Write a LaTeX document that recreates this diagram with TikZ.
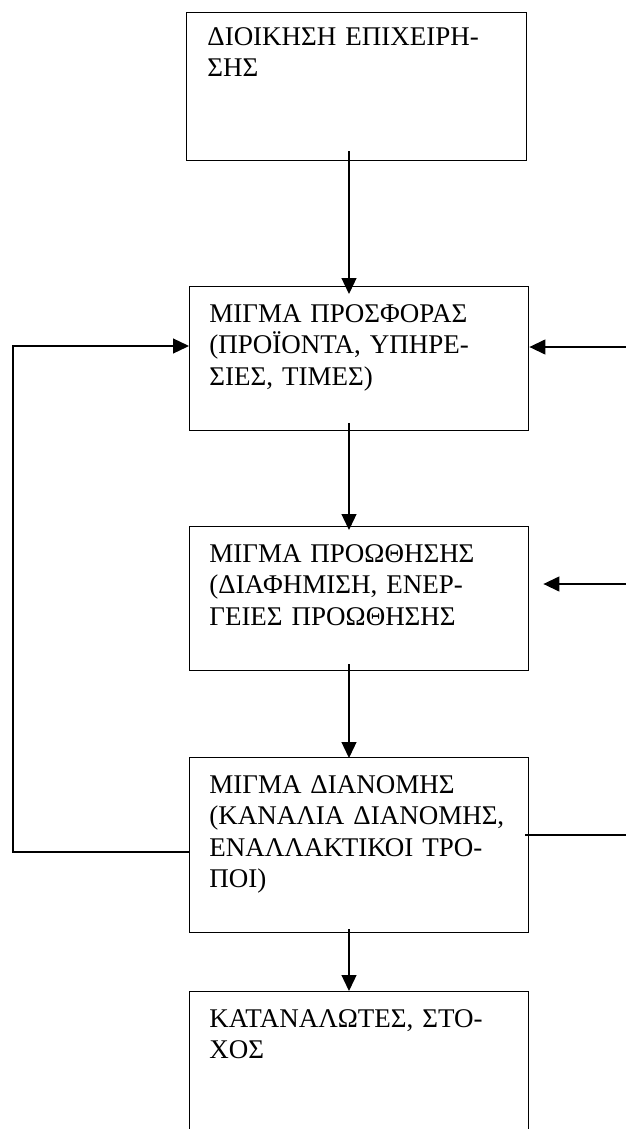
\documentclass[tikz,border=0pt]{standalone}
\usepackage{fontspec}
\setmainfont{Liberation Serif}
\usetikzlibrary{arrows.meta}
\begin{document}
\begin{tikzpicture}[x=0.5pt,y=-0.5pt,
  box/.style={draw=black,line width=0.7pt,minimum width=169.5pt,inner sep=0pt,anchor=north west},
  txt/.style={inner sep=0pt,anchor=north west,text width=165pt,align=left,
    font=\fontsize{13.5}{15.75}\selectfont},
  arr/.style={line width=0.65pt,-{Triangle[length=8pt,width=7.5pt]}},
  ln/.style={line width=0.65pt}]
\useasboundingbox (0,0) rectangle (626,1129);
% boxes
\node[box,minimum width=170pt,minimum height=74pt] (b1) at (186,12) {};
\node[box,minimum height=72pt] (b2) at (189,286) {};
\node[box,minimum height=72pt] (b3) at (189,526) {};
\node[box,minimum height=87.5pt] (b4) at (189,757) {};
\node[box,minimum height=80pt] (b5) at (189,991) {};
% box texts
\node[txt] (t1) at (207,23) {\strut ΔΙΟΙΚΗΣΗ ΕΠΙΧΕΙΡΗ-\\ΣΗΣ};
\node[txt] (t2) at (209,300) {\strut ΜΙΓΜΑ ΠΡΟΣΦΟΡΑΣ\\(ΠΡΟΪΟΝΤΑ, ΥΠΗΡΕ-\\ΣΙΕΣ, ΤΙΜΕΣ)};
\node[txt] (t3) at (209,540) {\strut ΜΙΓΜΑ ΠΡΟΩΘΗΣΗΣ\\(ΔΙΑΦΗΜΙΣΗ, ΕΝΕΡ-\\ΓΕΙΕΣ ΠΡΟΩΘΗΣΗΣ};
\node[txt] (t4) at (209,771) {\strut ΜΙΓΜΑ ΔΙΑΝΟΜΗΣ\\(ΚΑΝΑΛΙΑ ΔΙΑΝΟΜΗΣ,\\ΕΝΑΛΛΑΚΤΙΚΟΙ ΤΡΟ-\\ΠΟΙ)};
\node[txt] (t5) at (209,1005) {\strut ΚΑΤΑΝΑΛΩΤΕΣ, ΣΤΟ-\\ΧΟΣ};
% helper coordinates
\coordinate (axis) at (349,0);
\coordinate (r1) at (630,347);
\coordinate (r2) at (630,584);
\coordinate (r3) at (630,835);
\coordinate (l1) at (13,852);
\coordinate (l2) at (13,346);
% main chain
\draw[arr,shorten <=-5pt,shorten >=-4pt] (b1.south -| axis) -- (b2.north -| axis);
\draw[arr,shorten <=-4.25pt,shorten >=-2pt] (b2.south -| axis) -- (b3.north -| axis);
\draw[arr,shorten <=-3.5pt,shorten >=-0.5pt] (b3.south -| axis) -- (b4.north -| axis);
\draw[arr,shorten <=-2pt] (b4.south -| axis) -- (b5.north -| axis);
% side inputs
\draw[arr] (r1) -- (r1 -| b2.east);
\draw[arr,shorten >=7pt] (r2) -- (r2 -| b3.east);
\draw[ln,shorten <=-2pt] (r3 -| b4.east) -- (r3);
% feedback loop
\draw[arr] (l1 -| b4.west) -- (l1) -- (l2) -- (l2 -| b2.west);
\end{tikzpicture}
\end{document}
